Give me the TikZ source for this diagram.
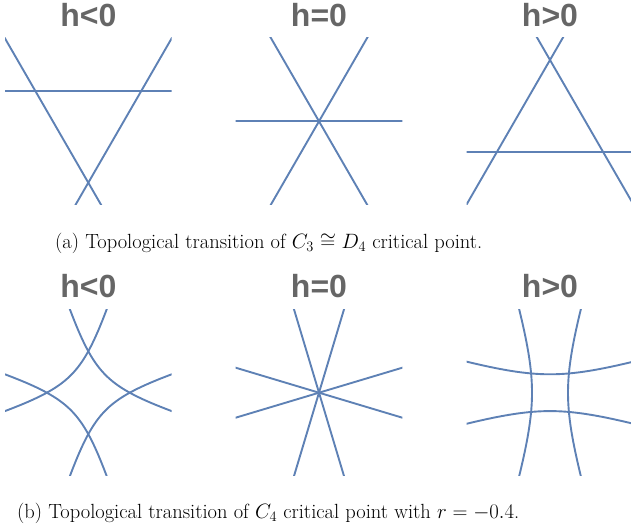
\documentclass[tikz,border=0pt]{standalone}
\usepackage{fontspec}
\newfontfamily\lblfont{Liberation Sans}
\definecolor{mblue}{HTML}{5E81B5}
\definecolor{lblgray}{HTML}{666666}
\begin{document}
\begin{tikzpicture}[x=1pt,y=1pt,
  curve/.style={mblue, line width=1.9pt},
  lbl/.style={anchor=base, inner sep=0pt, text=lblgray, font=\lblfont\bfseries\fontsize{32}{36}\selectfont},
  captext/.style={anchor=base west, inner sep=0pt, font=\fontsize{20.5}{24}\selectfont}]
\useasboundingbox (0,0) rectangle (631,529);
% ---------- row (a) ----------
\node[lbl] (la1) at (88.3,502.3) {h<0};
\node[lbl] (la2) at (319,502.3) {h=0};
\node[lbl] (la3) at (550,502.3) {h>0};
\begin{scope}[shift={(88.3,407.7)}]
  \clip (-83.3,-83.3) rectangle (83.3,83.3);
  \draw[curve] (-100,30.6) -- (100,30.6);
  \draw[curve] (0,-61.4) ++(-120:40) -- ++(60:250);
  \draw[curve] (0,-61.4) ++(-60:40) -- ++(120:250);
\end{scope}
\begin{scope}[shift={(319,407.7)}]
  \clip (-83.3,-83.3) rectangle (83.3,83.3);
  \draw[curve] (-100,0.2) -- (100,0.2);
  \draw[curve] (240:120) -- (60:120);
  \draw[curve] (300:120) -- (120:120);
\end{scope}
\begin{scope}[shift={(550,407.7)}]
  \clip (-83.3,-83.3) rectangle (83.3,83.3);
  \draw[curve] (-100,-31) -- (100,-31);
  \draw[curve] (0,61.3) ++(120:40) -- ++(-60:250);
  \draw[curve] (0,61.3) ++(60:40) -- ++(-120:250);
\end{scope}
\node[captext] (capa) at (55,280.7) {(a) Topological transition of $C_3\cong D_4$ critical point.};
% ---------- row (b) ----------
\node[lbl] (lb1) at (88.3,231) {h<0};
\node[lbl] (lb2) at (319,231) {h=0};
\node[lbl] (lb3) at (550,231) {h>0};
\begin{scope}[shift={(88.3,136.3)}]
  \clip (-83.3,-83.3) rectangle (83.3,83.3);
  \foreach \sx/\sy in {1/1,-1/1,1/-1,-1/-1}{
    \draw[curve, xscale=\sx, yscale=\sy] plot[domain=-1.5:1.5, samples=90, smooth]
      ({(22.7*exp(\x)-6.81*exp(-\x))/0.91}, {(22.7*exp(-\x)-6.81*exp(\x))/0.91});
  }
\end{scope}
\begin{scope}[shift={(319,136.3)}]
  \clip (-83.3,-83.3) rectangle (83.3,83.3);
  \draw[curve] (-30,-100) -- (30,100);
  \draw[curve] (30,-100) -- (-30,100);
  \draw[curve] (-100,-30) -- (100,30);
  \draw[curve] (-100,30) -- (100,-30);
\end{scope}
\begin{scope}[shift={(550,136.3)}]
  \clip (-83.3,-83.3) rectangle (83.3,83.3);
  \draw[curve] plot[domain=-95:95, samples=60, smooth] ({-sqrt(324+0.09*\x*\x)}, \x);
  \draw[curve] plot[domain=-95:95, samples=60, smooth] ({sqrt(324+0.09*\x*\x)}, \x);
  \draw[curve] plot[domain=-95:95, samples=60, smooth] (\x, {sqrt(338.6+0.09*\x*\x)});
  \draw[curve] plot[domain=-95:95, samples=60, smooth] (\x, {-sqrt(338.6+0.09*\x*\x)});
\end{scope}
\node[captext] (capb) at (17,10.7) {(b) Topological transition of $C_4$ critical point with $r=-0.4$.};
\end{tikzpicture}
\end{document}
